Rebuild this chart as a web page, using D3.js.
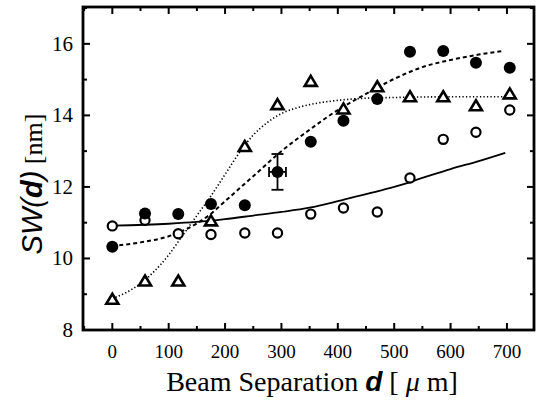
<!DOCTYPE html>
<html><head><meta charset="utf-8">
<script src="https://cdn.jsdelivr.net/npm/d3@7"></script>
<style>body{margin:0;background:#fff}svg{display:block}</style>
</head><body><svg id="c" width="537" height="401"></svg>
<script>
// ---- data ----
const xTicks = [0,100,200,300,400,500,600,700];
const yTicks = [8,10,12,14,16];
const sepD   = [0,58,117,175,235,293,352,410,470,528,587,645,705];
const filledV = [10.33,11.26,11.24,11.52,11.49,12.42,13.26,13.85,14.46,15.78,15.80,15.47,15.33];
const triV    = [8.86,9.37,9.37,11.05,13.13,14.30,14.95,14.18,14.80,14.52,14.52,14.27,14.60];
const openV   = [10.91,11.07,10.69,10.67,10.71,10.71,11.24,11.41,11.30,12.25,13.33,13.53,14.15];
const errPoint = {d:293, v:12.42, dErr:15, vErr:0.5};
// fitted curves
const solidD  = [0,100,150,200,250,300,350,400,450,500,550,600,650,697];
const solidV  = [10.92,10.97,11.02,11.10,11.20,11.30,11.42,11.60,11.80,12.00,12.25,12.50,12.72,12.95];
const dashD   = [0,50,100,150,175,200,250,300,350,400,450,500,550,600,650,693];
const dashV   = [10.35,10.45,10.62,10.98,11.25,11.60,12.30,13.00,13.60,14.15,14.60,15.02,15.35,15.55,15.70,15.80];
const dotD    = [0,25,50,75,100,125,150,175,200,225,250,275,300,325,350,400,450,500,600,693];
const dotV    = [8.88,9.05,9.30,9.65,10.10,10.65,11.20,11.75,12.35,12.95,13.45,13.80,14.05,14.20,14.30,14.42,14.48,14.50,14.52,14.52];

const SERIF = 'Liberation Serif', SANS = 'Liberation Sans';
const svg = d3.select('#c');
const L=83, R=534, T=7, B=330;
const x = d3.scaleLinear().domain([-52,748]).range([L,R]);
const y = d3.scaleLinear().domain([8,17.03]).range([B,T]);

// text first
svg.append('g').selectAll('text').data(xTicks).join('text')
  .attr('font-family',SERIF)
  .attr('x',d=>x(d)).attr('y',358).attr('text-anchor','middle')
  .attr('font-size',19).text(d=>d);
svg.append('g').selectAll('text').data(yTicks).join('text')
  .attr('font-family',SERIF)
  .attr('x',73).attr('y',d=>y(d)+7).attr('text-anchor','end')
  .attr('font-size',21).text(d=>d);

const xt = svg.append('text').attr('font-family',SERIF)
  .attr('x',312).attr('y',391).attr('text-anchor','middle').attr('font-size',28);
xt.append('tspan').text('Beam Separation ');
xt.append('tspan').attr('font-family',SANS).attr('font-weight','bold').attr('font-style','italic').text('d');
xt.append('tspan').text(' [ ');
xt.append('tspan').attr('font-style','italic').text('μ');
xt.append('tspan').text(' m]');

const yt = svg.append('text').attr('font-family',SERIF)
  .attr('transform','translate(42,184) rotate(-90)')
  .attr('text-anchor','middle').attr('font-size',26);
yt.append('tspan').attr('font-family',SANS).attr('font-style','italic').attr('font-size',29).text('SW(');
yt.append('tspan').attr('font-family',SANS).attr('font-style','italic').attr('font-weight','bold').attr('font-size',29).text('d');
yt.append('tspan').attr('font-family',SANS).attr('font-style','italic').attr('font-size',29).text(')');
yt.append('tspan').text(' [nm]');

// curves
const line = d3.line().curve(d3.curveMonotoneX);
function drawCurve(ds, vs, dash, w){
  svg.append('path').attr('d', line(ds.map((d,i)=>[x(d), y(vs[i])])))
    .attr('fill','none').attr('stroke','#000').attr('stroke-width',w)
    .attr('stroke-dasharray',dash);
}
drawCurve(solidD, solidV, null, 1.8);
drawCurve(dashD, dashV, '4,3', 2);
drawCurve(dotD, dotV, '1.3,2.2', 1.6);

// error bar
const eg = svg.append('g').attr('stroke','#000').attr('stroke-width',1.8);
const ex = x(errPoint.d), ey = y(errPoint.v);
eg.append('line').attr('x1',ex).attr('x2',ex).attr('y1',y(errPoint.v+errPoint.vErr)).attr('y2',y(errPoint.v-errPoint.vErr));
eg.append('line').attr('x1',ex-6).attr('x2',ex+6).attr('y1',y(errPoint.v+errPoint.vErr)).attr('y2',y(errPoint.v+errPoint.vErr));
eg.append('line').attr('x1',ex-6).attr('x2',ex+6).attr('y1',y(errPoint.v-errPoint.vErr)).attr('y2',y(errPoint.v-errPoint.vErr));
eg.append('line').attr('x1',x(errPoint.d-errPoint.dErr)).attr('x2',x(errPoint.d+errPoint.dErr)).attr('y1',ey).attr('y2',ey);
eg.append('line').attr('x1',x(errPoint.d-errPoint.dErr)).attr('x2',x(errPoint.d-errPoint.dErr)).attr('y1',ey-5).attr('y2',ey+5);
eg.append('line').attr('x1',x(errPoint.d+errPoint.dErr)).attr('x2',x(errPoint.d+errPoint.dErr)).attr('y1',ey-5).attr('y2',ey+5);

// markers
svg.append('g').selectAll('circle').data(sepD).join('circle')
  .attr('cx',d=>x(d)).attr('cy',(d,i)=>y(openV[i])).attr('r',4.6)
  .attr('fill','#fff').attr('stroke','#000').attr('stroke-width',2.2);
svg.append('g').selectAll('circle').data(sepD).join('circle')
  .attr('cx',d=>x(d)).attr('cy',(d,i)=>y(filledV[i])).attr('r',6)
  .attr('fill','#000');
svg.append('g').selectAll('path').data(sepD).join('path')
  .attr('transform',(d,i)=>`translate(${x(d)},${y(triV[i])})`)
  .attr('d','M0,-5.5L6,4.5L-6,4.5Z')
  .attr('fill','#fff').attr('stroke','#000').attr('stroke-width',2.6).attr('stroke-linejoin','miter');

// axes frame with inward ticks
const xMinor = d3.range(-50,750,50);
const yMinor = d3.range(8,17.01,1);
const g = svg.append('g').attr('stroke','#000').attr('stroke-width',2);
xMinor.forEach(v=>{
  const len = xTicks.includes(v)?7:4;
  g.append('line').attr('x1',x(v)).attr('x2',x(v)).attr('y1',B).attr('y2',B-len);
  g.append('line').attr('x1',x(v)).attr('x2',x(v)).attr('y1',T).attr('y2',T+len);
});
yMinor.forEach(v=>{
  const len = yTicks.includes(v)?7:4;
  g.append('line').attr('y1',y(v)).attr('y2',y(v)).attr('x1',L).attr('x2',L+len);
  g.append('line').attr('y1',y(v)).attr('y2',y(v)).attr('x1',R).attr('x2',R-len);
});
svg.append('rect').attr('x',L).attr('y',T).attr('width',R-L).attr('height',B-T)
  .attr('fill','none').attr('stroke','#000').attr('stroke-width',2.8);
</script></body></html>
